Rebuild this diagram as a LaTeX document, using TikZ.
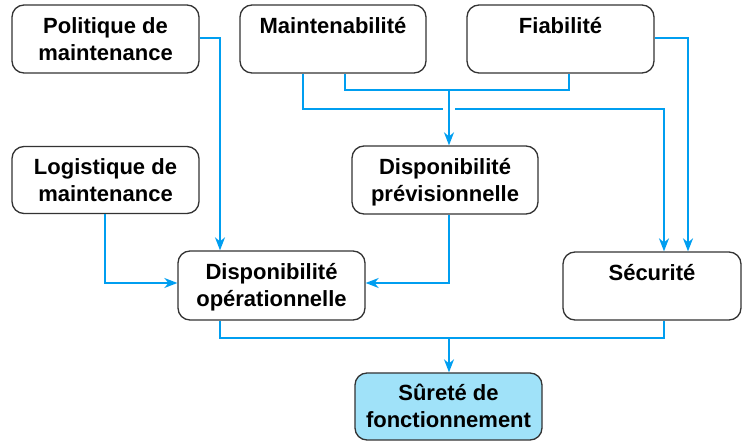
\documentclass[tikz,border=0pt]{standalone}
\usepackage{fontspec}
\setmainfont{Liberation Sans}
\usetikzlibrary{arrows.meta}
\definecolor{lineblue}{RGB}{0,158,240}
\definecolor{fillblue}{RGB}{160,226,249}
\newcommand{\tstrut}{\rule{0pt}{24pt}}
\begin{document}
\begin{tikzpicture}[x=1pt,y=-1pt,
  box/.style={draw=black!80, line width=1.3pt, rounded corners=12pt, fill=white,
    align=center, inner sep=0pt, font=\fontsize{22}{27}\selectfont\bfseries},
  conn/.style={draw=lineblue, line width=1.6pt},
  arr/.style={conn, -{Stealth[length=13pt,width=10pt,inset=4pt]}}]
\useasboundingbox (0,0) rectangle (742,443);

\node[box, minimum width=187pt, minimum height=68pt] (pol) at (105.5,39) {\tstrut Politique de\\\strut maintenance};
\node[box, minimum width=186pt, minimum height=68pt] (mnt) at (333,39) {\tstrut Maintenabilité\\\strut};
\node[box, minimum width=187pt, minimum height=68pt] (fia) at (560.5,39) {\tstrut Fiabilité\\\strut};
\node[box, minimum width=187pt, minimum height=67pt] (log) at (105.5,180) {\tstrut Logistique de\\\strut maintenance};
\node[box, minimum width=186pt, minimum height=68pt] (dpr) at (445,180) {\tstrut Disponibilité\\\strut prévisionnelle};
\node[box, minimum width=187pt, minimum height=69pt] (dop) at (271.5,285.5) {\tstrut Disponibilité\\\strut opérationnelle};
\node[box, minimum width=178pt, minimum height=68pt] (sec) at (652,286) {\tstrut Sécurité\\\strut};
\node[box, fill=fillblue, minimum width=187pt, minimum height=67pt] (sur) at (448.5,406.5) {\tstrut Sûreté de\\\strut fonctionnement};

% junction coordinates
\coordinate (j1) at (220,38);
\coordinate (j2) at (303,109);
\coordinate (g1) at (443,109);
\coordinate (g2) at (455,109);
\coordinate (j3) at (664,109);
\coordinate (j4) at (345,90);
\coordinate (j5) at (569,90);
\coordinate (j6) at (449,90);
\coordinate (j7) at (688,38);
\coordinate (j8) at (105,283);
\coordinate (j9) at (449,283);
\coordinate (j10) at (220,338);
\coordinate (j11) at (664,338);
\coordinate (j12) at (449,338);

% Politique -> Disponibilite operationnelle
\draw[arr] (pol.east |- j1) -- (j1) -- (j1 |- dop.north);
% Maintenabilite -> Securite (with gap at crossing)
\draw[conn] (j2 |- mnt.south) -- (j2) -- (g1);
\draw[arr] (g2) -- (j3) -- (j3 |- sec.north);
% Maintenabilite + Fiabilite -> Disponibilite previsionnelle
\draw[conn] (j4 |- mnt.south) -- (j4) -- (j5) -- (j5 |- fia.south);
\draw[arr] (j6) -- (j6 |- dpr.north);
% Fiabilite -> Securite
\draw[arr] (fia.east |- j7) -- (j7) -- (j7 |- sec.north);
% Logistique -> Disponibilite operationnelle
\draw[arr] (j8 |- log.south) -- (j8) -- (j8 -| dop.west);
% Disponibilite previsionnelle -> Disponibilite operationnelle
\draw[arr] (j9 |- dpr.south) -- (j9) -- (j9 -| dop.east);
% Disponibilite operationnelle + Securite -> Surete
\draw[conn] (j10 |- dop.south) -- (j10) -- (j11) -- (j11 |- sec.south);
\draw[arr] (j12) -- (j12 |- sur.north);
\end{tikzpicture}
\end{document}
